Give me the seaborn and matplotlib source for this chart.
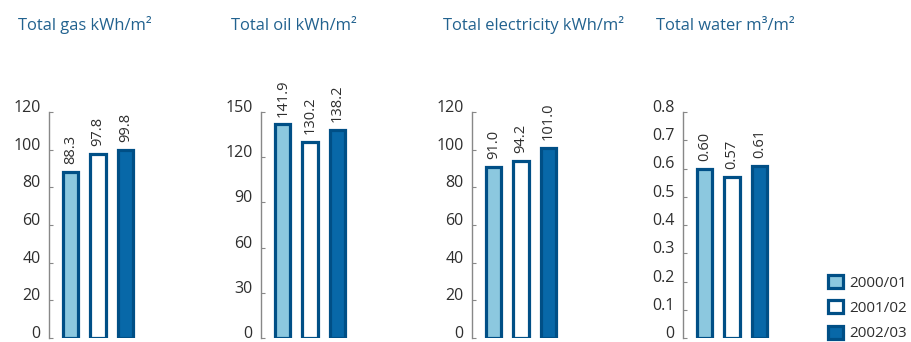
import matplotlib
matplotlib.use("Agg")
import matplotlib.pyplot as plt
import seaborn as sns
import pandas as pd
from matplotlib.patches import Patch

# Consumption per square metre, three reporting years
years = ["2000/01", "2001/02", "2002/03"]
gas = [88.3, 97.8, 99.8]
oil = [141.9, 130.2, 138.2]
electricity = [91.0, 94.2, 101.0]
water = [0.60, 0.57, 0.61]

titles = ["Total gas kWh/m²", "Total oil kWh/m²",
          "Total electricity kWh/m²", "Total water m³/m²"]
gas_ticks = [0, 20, 40, 60, 80, 100, 120]
oil_ticks = [0, 30, 60, 90, 120, 150]
elec_ticks = [0, 20, 40, 60, 80, 100, 120]
water_ticks = [0, 0.1, 0.2, 0.3, 0.4, 0.5, 0.6, 0.7, 0.8]
water_tick_labels = ["0", "0.1", "0.2", "0.3", "0.4", "0.5", "0.6", "0.7", "0.8"]

sns.set_theme(style="white")
plt.rcParams["font.family"] = ["Open Sans", "DejaVu Sans"]

W, H = 911, 342
fig = plt.figure(figsize=(W / 100, H / 100), dpi=100)

fills = {"2000/01": "#8cc8df", "2001/02": "#ffffff", "2002/03": "#0868a8"}
edge = "#004f86"
title_color = "#22628f"
text_color = "#2e2e2e"

panels = [
    (gas, gas_ticks, [str(t) for t in gas_ticks], "{:.1f}", 49, 18),
    (oil, oil_ticks, [str(t) for t in oil_ticks], "{:.1f}", 261, 231),
    (electricity, elec_ticks, [str(t) for t in elec_ticks], "{:.1f}", 472, 443),
    (water, water_ticks, water_tick_labels, "{:.2f}", 683, 656),
]

ax_bottom_px, ax_top_px = 338, 112
for (vals, ticks, tick_labels, fmt, left_px, title_px), title in zip(panels, titles):
    width_px = 90
    ax = fig.add_axes([left_px / W, 1 - ax_bottom_px / H,
                       width_px / W, (ax_bottom_px - ax_top_px) / H])
    df = pd.DataFrame({"year": years, "value": vals})
    sns.barplot(data=df, x="year", y="value", hue="year", palette=fills,
                saturation=1, width=0.56, edgecolor=edge, linewidth=2.3,
                legend=False, ax=ax)
    ax.set_xlim(-0.8, 2.5)
    ax.set_ylim(0, ticks[-1])
    ax.set_yticks(ticks)
    ax.set_yticklabels(tick_labels, fontsize=11.5, color=text_color)
    for lab in ax.get_yticklabels():
        lab.set_verticalalignment("baseline")
    ax.set_xticks([])
    ax.set_xlabel("")
    ax.set_ylabel("")
    for s in ["top", "right", "bottom"]:
        ax.spines[s].set_visible(False)
    ax.spines["left"].set_color("#888888")
    ax.spines["left"].set_linewidth(1.0)
    ax.tick_params(axis="y", direction="in", length=3, width=0.8,
                   color="#888888", pad=6, left=True)
    ax.patch.set_alpha(0)
    for i, v in enumerate(vals):
        ax.annotate(fmt.format(v), (i, v), xytext=(0, 5.5), textcoords="offset points",
                    rotation=90, ha="center", va="bottom", fontsize=10.5,
                    color=text_color, annotation_clip=False)
    fig.text(title_px / W, 1 - 30 / H, title, fontsize=11.9, color=title_color,
             ha="left", va="baseline")

handles = [Patch(facecolor=fills[y], edgecolor=edge, linewidth=2.3, label=y) for y in years]
fig.legend(handles=handles, loc="upper left", bbox_to_anchor=(828 / W, 1 - 275 / H),
           frameon=False, fontsize=11, handlelength=0.95, handleheight=0.95,
           handletextpad=0.45, labelspacing=0.62, labelcolor=text_color,
           borderaxespad=0, borderpad=0)

fig.savefig("out.png", dpi=100)
